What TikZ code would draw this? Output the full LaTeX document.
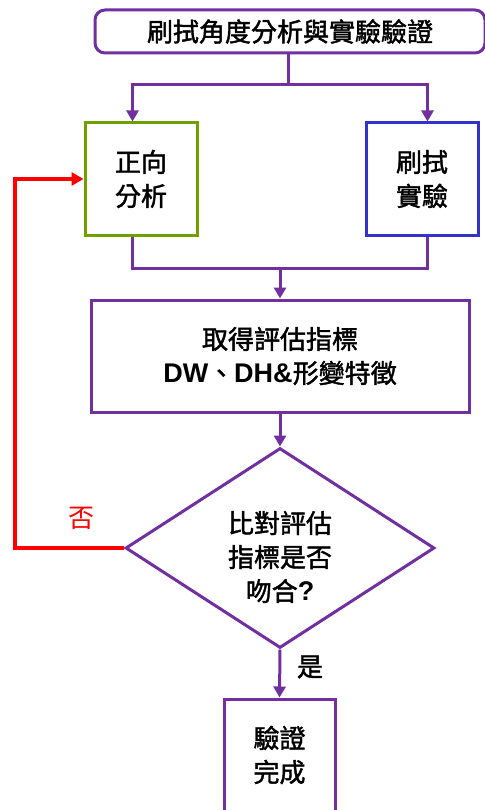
\documentclass[tikz,border=0pt]{standalone}
\usepackage{fontspec}
\setmainfont{Liberation Sans}
\newfontfamily\cjk[FakeBold=1.6]{Noto Sans CJK TC}
\newfontfamily\cjkr{Noto Sans CJK TC}
\newfontfamily\latbf{Liberation Sans Bold}
\usetikzlibrary{shapes.geometric,arrows.meta}
\definecolor{pur}{RGB}{112,48,160}
\definecolor{grn}{RGB}{112,160,0}
\definecolor{blu}{RGB}{51,51,204}
\definecolor{rd}{RGB}{255,0,0}
\newcommand{\latb}[1]{{\latbf\fontsize{27pt}{34pt}\selectfont #1}}
\tikzset{
  lbl/.style={font=\fontsize{26pt}{34pt}\selectfont\cjk, align=center},
  sbox/.style={lbl, draw, line width=3pt, inner sep=0pt, minimum width=112pt, minimum height=112pt},
  conn/.style={draw=pur, line width=3pt},
  arr/.style={conn, -{Triangle[length=11pt,width=12pt]}},
  redarr/.style={draw=rd, line width=4pt, -{Triangle[length=12pt,width=13pt]}},
}
\begin{document}
\begin{tikzpicture}[x=1pt,y=-1pt]
\useasboundingbox (0,0) rectangle (484,810);
\fill[white] (0,0) rectangle (484,810);
\node[lbl, draw=pur, line width=3pt, rounded corners=10pt, inner sep=0pt, minimum width=390pt, minimum height=43pt] (t) at (290,31.5) {刷拭角度分析與實驗驗證};
\node[sbox, draw=grn] (a) at (141,179) {正向\\分析};
\node[sbox, draw=blu] (b) at (422,179) {刷拭\\實驗};
\node[lbl, draw=pur, line width=3pt, inner sep=0pt, minimum width=378pt, minimum height=112pt] (m) at (280,356) {取得評估指標\\\latb{DW}、\latb{DH\&}形變特徵};
\node[diamond, draw=pur, line width=3pt, inner sep=0pt, minimum width=309pt, minimum height=200pt] (d) at (280,548) {};
\node[lbl] (dt) at (280,557) {比對評估\\指標是否\\吻合\latb{?}};
\node[sbox, draw=pur, minimum width=111pt] (e) at (279.5,755) {驗證\\完成};
\node[lbl, text=rd, font=\fontsize{26pt}{34pt}\selectfont\cjkr] (no) at (81,518) {否};
\node[lbl] (yes) at (310,667) {是};
\coordinate (j1) at (288,85);
\coordinate (j2) at (280,268);
\coordinate (r) at (15,179);
\draw[conn] (j1 |- t.south) -- (j1);
\draw[arr] (j1) -| ([xshift=-8.5pt]a.north);
\draw[arr] (j1) -| ([xshift=5.5pt]b.north);
\draw[conn] ([xshift=-8.5pt]a.south) |- (j2) -| ([xshift=5.5pt]b.south);
\draw[arr] (j2) -- (m.north);
\draw[arr] (m.south) -- (d.north);
\draw[arr] (d.south) -- (e.north);
\draw[redarr] (d.west) -| (r) -- (a.west);
\end{tikzpicture}
\end{document}
